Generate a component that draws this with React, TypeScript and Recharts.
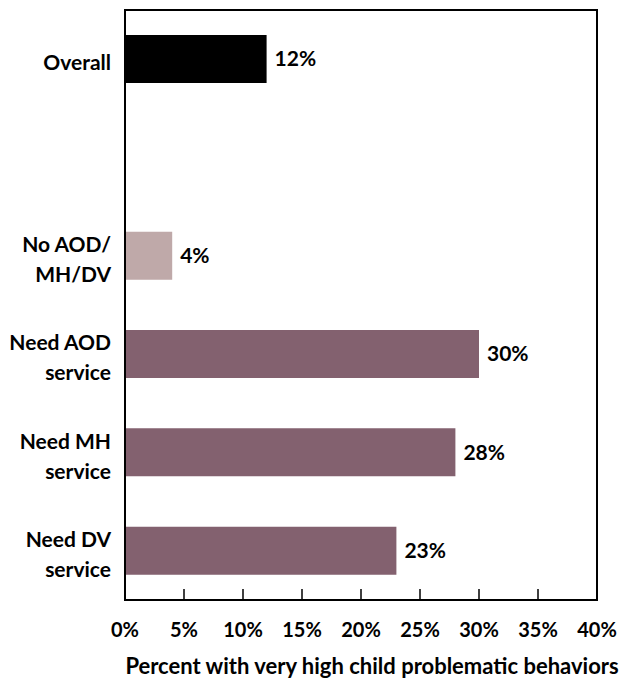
import { BarChart, Bar, XAxis, YAxis, Cell, LabelList, ReferenceArea } from "recharts";

const groups = ["Overall", " ", "No AOD/\nMH/DV", "Need AOD\nservice", "Need MH\nservice", "Need DV\nservice"];
const percents = [12, null, 4, 30, 28, 23];
const barColors = ["#000000", "#ffffff", "#bfa9a9", "#83616f", "#83616f", "#83616f"];
const xTicks = [0, 5, 10, 15, 20, 25, 30, 35, 40];

const FONT = "Lato, 'Open Sans', sans-serif";

const chartData = groups.map((g, i) => ({ group: g, value: percents[i], fill: barColors[i] }));

const XTick = (props: any) => {
  const { x, y, payload } = props;
  return (
    <g>
      <line x1={x} y1={y} x2={x} y2={y - 11} stroke="#000" strokeWidth={1.5} />
      <text x={x} y={y + 37} textAnchor="middle" fontFamily={FONT} fontWeight={700} fontSize={20} fill="#000">
        {payload.value}%
      </text>
    </g>
  );
};

const YTick = (props: any) => {
  const { x, y, payload } = props;
  const lines = String(payload.value).split("\n");
  const lh = 30;
  const start = y + 2 - ((lines.length - 1) * lh) / 2;
  return (
    <text x={x - 6} y={start} textAnchor="end" dominantBaseline="central" fontFamily={FONT} fontWeight={700} fontSize={21} fill="#000">
      {lines.map((l, i) => (
        <tspan key={i} x={x - 6} y={start + i * lh}>
          {l}
        </tspan>
      ))}
    </text>
  );
};

export default function App() {
  return (
    <div style={{ position: "absolute", left: 0, top: 0, background: "#fff" }}>
      <BarChart
        width={621}
        height={680}
        layout="vertical"
        data={chartData}
        margin={{ top: 10, right: 24, left: 0, bottom: 0 }}
      >
        <ReferenceArea x1={0} x2={40} fill="none" stroke="#000" strokeWidth={2} ifOverflow="visible" />
        <XAxis
          type="number"
          domain={[0, 40]}
          ticks={xTicks}
          interval={0}
          height={80}
          tickSize={0}
          tickMargin={0}
          tickLine={false}
          axisLine={{ stroke: "#000", strokeWidth: 2 }}
          tick={<XTick />}
          label={{
            value: "Percent with very high child problematic behaviors",
            position: "insideBottom",
            offset: 6,
            dx: 11,
            fill: "#000",
            fontFamily: FONT,
            fontWeight: 700,
            fontSize: 22,
          }}
        />
        <YAxis
          type="category"
          dataKey="group"
          width={125}
          tickLine={false}
          axisLine={{ stroke: "#000", strokeWidth: 2 }}
          tick={<YTick />}
          interval={0}
        />
        <Bar dataKey="value" barSize={48} isAnimationActive={false}>
          {chartData.map((d, i) => (
            <Cell key={i} fill={d.fill} />
          ))}
          <LabelList
            dataKey="value"
            position="right"
            offset={8}
            formatter={(v: any) => (v == null ? "" : `${v}%`)}
            fill="#000"
            fontFamily={FONT}
            fontWeight={700}
            fontSize={21}
          />
        </Bar>
      </BarChart>
    </div>
  );
}
